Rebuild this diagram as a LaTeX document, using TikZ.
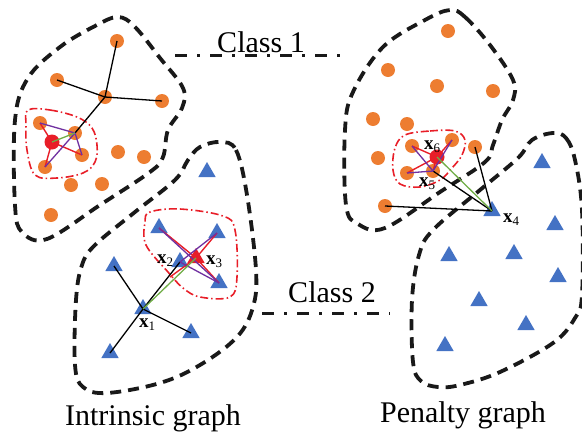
\documentclass[tikz,border=0pt]{standalone}
\usepackage{fontspec}
\setmainfont{Liberation Serif}
\usetikzlibrary{shapes.geometric}
\definecolor{dotorange}{RGB}{237,125,49}
\definecolor{triblue}{RGB}{68,114,196}
\definecolor{hired}{RGB}{232,30,40}
\definecolor{hipurple}{RGB}{112,48,160}
\definecolor{higreen}{RGB}{112,173,71}
\newcommand{\xlab}[1]{\textbf{x}{\fontsize{13}{13}\selectfont\raisebox{-3pt}{#1}}}
\tikzset{
  odot/.style={circle,fill=dotorange,inner sep=0pt,minimum size=14pt},
  rdot/.style={circle,fill=hired,inner sep=0pt,minimum size=15pt},
  btri/.style={regular polygon,regular polygon sides=3,fill=triblue,inner sep=0pt,minimum size=20pt},
  rtri/.style={regular polygon,regular polygon sides=3,fill=hired,inner sep=0pt,minimum size=20pt},
  blob/.style={line width=3.8pt,dash pattern=on 11pt off 7pt,black!90},
  nbhd/.style={line width=1.6pt,hired,dash pattern=on 8pt off 3pt on 1.5pt off 3pt},
  classline/.style={line width=3pt,black!90,dash pattern=on 12pt off 10pt on 3pt off 10pt},
  blk/.style={line width=1.3pt,black},
  redl/.style={line width=1.4pt,hired},
  purl/.style={line width=1.3pt,hipurple},
  grnl/.style={line width=1.3pt,higreen},
  xlabel/.style={font=\fontsize{19}{19}\selectfont,inner sep=0pt},
  bigtext/.style={font=\fontsize{30}{30}\selectfont,inner sep=0pt,anchor=base}
}
\begin{document}
\begin{tikzpicture}[x=1pt,y=-1pt]
\useasboundingbox (0,0) rectangle (582,437);
% ---------- blobs ----------
\draw[blob] plot[smooth cycle,tension=0.6] coordinates {(118,17) (135,27) (160,58) (183,88) (182,108) (168,130) (163,157) (150,172) (100,205) (47,239) (22,232) (15,205) (15,120) (28,78) (60,47) (95,26)};
\draw[blob] plot[smooth cycle,tension=0.6] coordinates {(220,142) (236,150) (247,195) (256,270) (253,307) (237,337) (200,365) (160,383) (107,393) (83,387) (75,365) (76,300) (82,265) (95,245) (135,212) (175,180) (188,160) (200,147)};
\draw[blob] plot[smooth cycle,tension=0.6] coordinates {(450,10) (465,17) (490,45) (513,80) (513,100) (502,120) (493,145) (485,162) (440,192) (385,228) (358,224) (346,205) (345,130) (353,92) (383,47) (425,20)};
\draw[blob] plot[smooth cycle,tension=0.6] coordinates {(553,133) (566,138) (575,160) (582,210) (582,295) (575,318) (553,343) (500,372) (460,385) (438,387) (421,381) (413,362) (412,300) (419,255) (433,230) (480,190) (518,158) (532,140)};
% ---------- neighbourhoods ----------
\draw[nbhd] plot[smooth cycle,tension=0.6] coordinates {(28,110) (50,110) (77,117) (92,128) (97,145) (95,162) (83,173) (57,178) (35,175) (27,150) (26,125)};
\draw[nbhd] plot[smooth cycle,tension=0.6] coordinates {(150,212) (180,209) (223,216) (235,230) (237,277) (230,297) (200,297) (183,288) (168,272) (146,245) (145,222)};
\draw[nbhd] plot[smooth cycle,tension=0.6] coordinates {(405,135) (430,131) (455,131) (465,140) (462,155) (452,168) (440,180) (420,187) (400,184) (393,170) (395,148)};
% ---------- intrinsic class 1 ----------
\node[odot] (oA) at (117,41) {};
\node[odot] (oB) at (57,80) {};
\node[odot] (oC) at (105,97) {};
\node[odot] (oD) at (162,101) {};
\node[odot] (oE) at (40,123) {};
\node[odot] (oF) at (75,133) {};
\node[rdot] (rL) at (52,142) {};
\node[odot] (oG) at (82,155) {};
\node[odot] (oH) at (45,167) {};
\node[odot] (oI) at (118,152) {};
\node[odot] (oJ) at (144,157) {};
\node[odot] (oK) at (71,185) {};
\node[odot] (oL) at (102,184) {};
\node[odot] (oM) at (51,215) {};
\draw[blk] (oA.center) -- (oC.center);
\draw[blk] (oB.center) -- (oC.center);
\draw[blk] (oC.center) -- (oD.center);
\draw[blk] (oC.center) -- (oF.center);
\draw[redl] (rL.center) -- (oE.center);
\draw[redl] (rL.center) -- (oH.center);
\draw[redl] (rL.center) -- (oG.center);
\draw[purl] (oF.center) -- (oE.center);
\draw[purl] (oF.center) -- (oH.center);
\draw[purl] (oF.center) -- (oG.center);
\draw[grnl] (rL.center) -- (oF.center);
% ---------- intrinsic class 2 ----------
\node[btri] (tA) at (207,172) {};
\node[btri] (tB) at (159,228) {};
\node[btri] (tC) at (217,233) {};
\node[btri] (x2) at (180,262) {};
\node[rtri] (x3) at (196,258) {};
\node[btri] (tD) at (219,283) {};
\node[btri] (tE) at (114,266) {};
\node[btri] (x1) at (143,309) {};
\node[btri] (tF) at (191,333) {};
\node[btri] (tG) at (110,353) {};
\coordinate (rEnd) at (170,277);
\draw[blk] (x1.center) -- (tE.center);
\draw[blk] (x1.center) -- (tF.center);
\draw[blk] (x1.center) -- (tG.center);
\draw[blk] (x1.center) -- (x2.center);
\draw[redl] (x3.center) -- (tB.center);
\draw[redl] (x3.center) -- (tC.center);
\draw[redl] (x3.center) -- (tD.center);
\draw[redl] (x3.center) -- (rEnd);
\draw[purl] (tB.center) -- (tD.center);
\draw[purl] (x2.center) -- (tC.center);
\draw[purl] (x2.center) -- (tD.center);
\draw[grnl] (x1.center) -- (x3.center);
\node[xlabel] (lx1) at (147,325) {\xlab{1}};
\node[xlabel] (lx2) at (165,261) {\xlab{2}};
\node[xlabel] (lx3) at (214,262) {\xlab{3}};
% ---------- penalty class 1 ----------
\node[odot] (pA) at (448,31) {};
\node[odot] (pB) at (388,70) {};
\node[odot] (pC) at (437,86) {};
\node[odot] (pD) at (493,91) {};
\node[odot] (pE) at (373,119) {};
\node[odot] (pF) at (407,124) {};
\node[odot] (pG) at (412,146) {};
\node[odot] (pH) at (452,140) {};
\node[odot] (pI) at (475,147) {};
\node[odot] (pJ) at (378,158) {};
\node[rdot] (rR) at (437,157) {};
\node[odot] (pK) at (407,173) {};
\node[odot] (x5) at (433,171) {};
\node[odot] (pL) at (385,206) {};
% ---------- penalty class 2 ----------
\node[btri] (x4) at (492,211) {};
\node[btri] (qA) at (542,163) {};
\node[btri] (qB) at (555,225) {};
\node[btri] (qC) at (449,256) {};
\node[btri] (qD) at (514,254) {};
\node[btri] (qE) at (558,277) {};
\node[btri] (qF) at (479,301) {};
\node[btri] (qG) at (526,325) {};
\node[btri] (qH) at (445,346) {};
\draw[blk] (x4.center) -- (pL.center);
\draw[blk] (x4.center) -- (pI.center);
\draw[blk] (x4.center) -- (x5.center);
\draw[redl] (rR.center) -- (pG.center);
\draw[redl] (rR.center) -- (pH.center);
\draw[redl] (rR.center) -- (pK.center);
\draw[redl] (rR.center) -- (x5.center);
\draw[purl] (x5.center) -- (pG.center);
\draw[purl] (x5.center) -- (pH.center);
\draw[purl] (x5.center) -- (pK.center);
\draw[grnl] (x4.center) -- (rR.center);
\node[xlabel] (lx4) at (511,220) {\xlab{4}};
\node[xlabel] (lx5) at (427,184) {\xlab{5}};
\node[xlabel] (lx6) at (432,147) {\xlab{6}};
% ---------- class labels ----------
\coordinate (c1a) at (175,55);
\coordinate (c1b) at (342,55);
\draw[classline] (c1a) -- (c1b);
\node[bigtext] (cls1) at (261,52) {Class 1};
\coordinate (c2a) at (262,313);
\coordinate (c2b) at (390,313);
\draw[classline] (c2a) -- (c2b);
\node[bigtext] (cls2) at (332,302) {Class 2};
\node[bigtext] (intr) at (153,425) {Intrinsic graph};
\node[bigtext] (pen) at (463,422) {Penalty graph};
\end{tikzpicture}
\end{document}
